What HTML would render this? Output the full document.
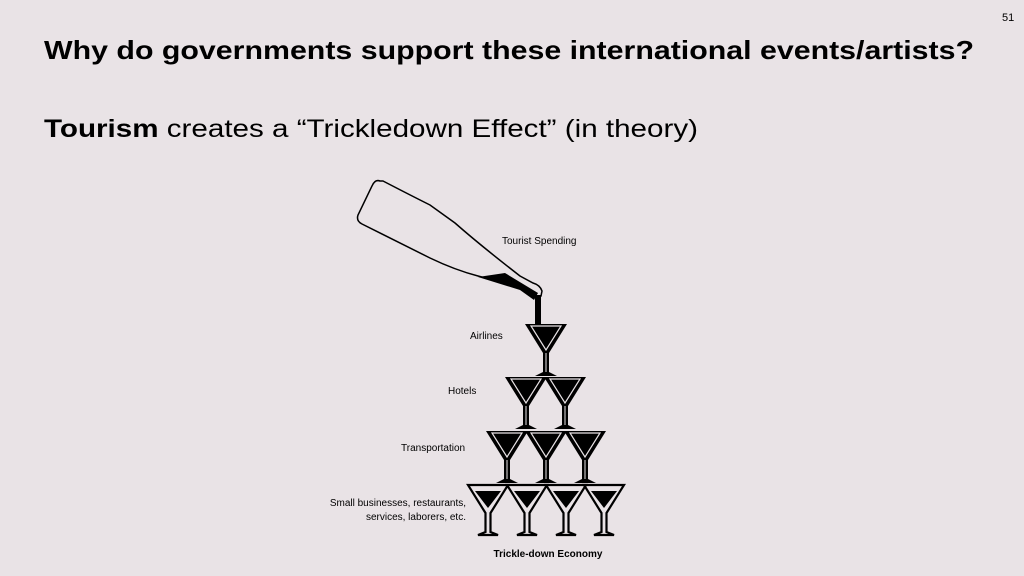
<!DOCTYPE html>
<html><head><style>
html,body{margin:0;padding:0;background:#e9e3e6;}
svg{display:block;font-family:"Liberation Sans",sans-serif;}
</style></head><body>
<svg width="1024" height="576" viewBox="0 0 1024 576" xmlns="http://www.w3.org/2000/svg">
<rect width="1024" height="576" fill="#e9e3e6"/>
<text x="1002" y="21" font-size="11" fill="#000">51</text>
<text x="44" y="59" font-size="26" font-weight="bold" fill="#000" textLength="930" lengthAdjust="spacingAndGlyphs">Why do governments support these international events/artists?</text>
<text x="44" y="137" font-size="25" fill="#000" textLength="654" lengthAdjust="spacingAndGlyphs"><tspan font-weight="bold">Tourism</tspan> creates a “Trickledown Effect” (in theory)</text>

<!-- bottle -->
<path d="M380,181 Q375,179 372,186 L358,215 Q356,221 362,224 L430,258 Q455,270 478,276 L520,287 Q528,290 536,296 L541,296 L542,291 Q540,285 533,283 L520,276 Q480,245 455,223 L430,205 Q410,195 383,181 Z" fill="none" stroke="#000" stroke-width="1.5"/>
<path d="M478,277 L505,273 L538,293 L534,300 L520,290 Z" fill="#000"/>
<rect x="535" y="295" width="6" height="30" fill="#000"/>

<g font-size="10" fill="#000">
<text x="502" y="244">Tourist Spending</text>
<text x="470" y="339">Airlines</text>
<text x="448" y="394">Hotels</text>
<text x="401" y="451">Transportation</text>
<text x="466" y="506" text-anchor="end">Small businesses, restaurants,</text>
<text x="466" y="520" text-anchor="end">services, laborers, etc.</text>
<text x="548" y="557" text-anchor="middle" font-weight="bold">Trickle-down Economy</text>
</g>

<defs>
<g id="gf">
<path d="M-21,0 L21,0 L3,29 L3,48 L11,52 L-11,52 L-3,48 L-3,29 Z" fill="#000"/>
<path d="M-15,2 L15,2 L0,26 Z" fill="none" stroke="#e9e3e6" stroke-width="1.2"/>
<path d="M0,29 L0,48" stroke="#e9e3e6" stroke-width="1"/>
</g>
<g id="ge">
<path d="M-20,1 L20,1 L2.5,29 L2.5,48 L10,51 L-10,51 L-2.5,48 L-2.5,29 Z" fill="none" stroke="#000" stroke-width="2.2"/>
<path d="M-13,7 L13,7 L0,24 Z" fill="#000"/>
</g>
</defs>
<use href="#gf" x="546" y="324"/>
<use href="#gf" x="526" y="377"/>
<use href="#gf" x="565" y="377"/>
<use href="#gf" x="507" y="431"/>
<use href="#gf" x="546" y="431"/>
<use href="#gf" x="585" y="431"/>
<use href="#ge" x="488" y="484"/>
<use href="#ge" x="527" y="484"/>
<use href="#ge" x="566" y="484"/>
<use href="#ge" x="604" y="484"/>
</svg>
</body></html>
